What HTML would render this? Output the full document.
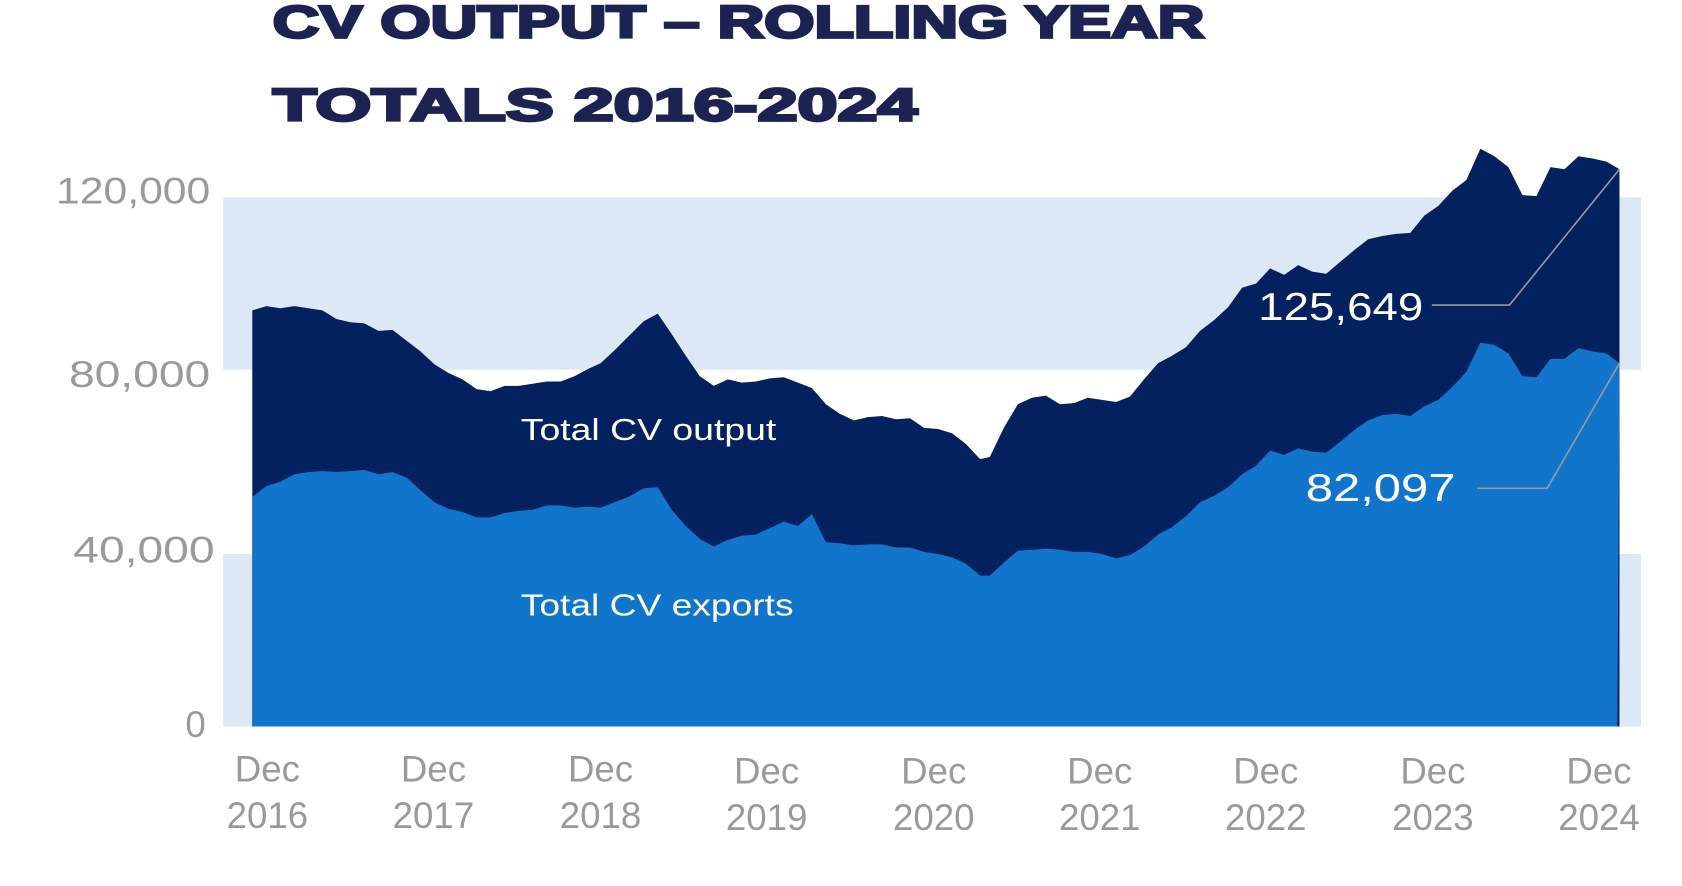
<!DOCTYPE html>
<html><head><meta charset="utf-8"><style>html,body{margin:0;padding:0;background:#fff}svg{display:block}</style></head>
<body>
<svg width="1682" height="886" viewBox="0 0 1560 822" preserveAspectRatio="none" xmlns="http://www.w3.org/2000/svg" font-family="Liberation Sans, sans-serif">
<rect x="207" y="183" width="1315" height="160" fill="#dce8f5"/>
<rect x="207" y="514" width="1315" height="160" fill="#dce8f5"/>
<path fill="#03205f" d="M234,674 L234,288 L247,284 L260,286 L273,284 L286,286 L299,288 L312,296 L325,299 L338,300 L351,307 L364,306 L377,316 L390,326 L403,338 L416,346 L429,352 L442,361 L455,363 L468,358 L481,358 L494,356 L507,354 L520,354 L533,349 L546,342 L557,337 L570,325 L583,312 L597,298 L610,291 L623,310 L636,330 L649,349 L662,358 L675,352 L688,355 L701,354 L714,351 L727,350 L740,355 L753,360 L766,375 L779,384 L792,390 L805,387 L818,386 L831,389 L844,388 L857,397 L870,398 L883,402 L896,412 L909,426 L918,424 L931,397 L944,375 L957,369 L970,367 L983,375 L996,374 L1009,369 L1022,371 L1035,373 L1048,368 L1061,352 L1074,337 L1087,330 L1100,322 L1113,307 L1126,297 L1139,285 L1152,267 L1165,263 L1178,249 L1191,255 L1204,246 L1217,252 L1230,254 L1243,243 L1256,232 L1269,222 L1282,219 L1295,217 L1308,216 L1321,200 L1334,191 L1347,177 L1360,167 L1373,138 L1386,145 L1399,155 L1412,181 L1425,182 L1438,155 L1451,157 L1464,145 L1477,147 L1490,150 L1502,157 L1502,674 Z"/>
<path fill="#1275cc" d="M234,674 L234,461 L247,451 L260,447 L273,440 L286,438 L299,437 L312,438 L325,437 L338,436 L351,440 L364,438 L377,443 L390,455 L403,466 L416,472 L429,475 L442,480 L455,480 L468,476 L481,474 L494,473 L507,469 L520,469 L533,471 L546,470 L557,471 L570,466 L583,461 L597,453 L610,452 L623,473 L636,488 L649,500 L662,507 L675,501 L688,497 L701,496 L714,490 L727,484 L740,488 L753,477 L766,503 L779,504 L792,506 L805,505 L818,505 L831,508 L844,508 L857,512 L870,514 L883,517 L896,523 L909,534 L918,534 L931,522 L944,511 L957,510 L970,509 L983,510 L996,512 L1009,512 L1022,514 L1035,518 L1048,515 L1061,507 L1074,496 L1087,489 L1100,479 L1113,466 L1126,460 L1139,452 L1152,440 L1165,432 L1178,418 L1191,422 L1204,416 L1217,419 L1230,420 L1243,410 L1256,399 L1269,390 L1282,385 L1295,384 L1308,386 L1321,377 L1334,371 L1347,359 L1360,345 L1373,318 L1386,320 L1399,328 L1412,349 L1425,350 L1438,333 L1451,333 L1464,323 L1477,326 L1490,328 L1502,337 L1500,674 Z"/>
<polyline points="1328,283 1400,283 1502,157" fill="none" stroke="#9a9a9a" stroke-width="1.5"/>
<polyline points="1370,453 1435,453 1502,337" fill="none" stroke="#9a9a9a" stroke-width="1.5"/>
<g fill="#fff">
<text x="1167" y="297" font-size="36" textLength="153" lengthAdjust="spacingAndGlyphs">125,649</text>
<text x="1211" y="465" font-size="36" textLength="139" lengthAdjust="spacingAndGlyphs">82,097</text>
<text x="483" y="408" font-size="28" textLength="237" lengthAdjust="spacingAndGlyphs">Total CV output</text>
<text x="483" y="571" font-size="28" textLength="253" lengthAdjust="spacingAndGlyphs">Total CV exports</text>
</g>
<g fill="#1c2352" font-weight="bold" font-size="42" stroke="#1c2352" stroke-width="2.5">
<text x="253" y="35" textLength="864" lengthAdjust="spacingAndGlyphs">CV OUTPUT – ROLLING YEAR</text>
<text x="253" y="112" textLength="598" lengthAdjust="spacingAndGlyphs">TOTALS 2016-2024</text>
</g>
<g fill="#9a9a9a" font-size="34">
<text x="52" y="189" textLength="143" lengthAdjust="spacingAndGlyphs">120,000</text>
<text x="64" y="359" textLength="131" lengthAdjust="spacingAndGlyphs">80,000</text>
<text x="68" y="522" textLength="131" lengthAdjust="spacingAndGlyphs">40,000</text>
<text x="172" y="684">0</text>
</g>
<g fill="#9a9a9a" font-size="34" text-anchor="middle">
<text x="248" y="725">Dec</text><text x="248" y="768">2016</text>
<text x="402" y="725">Dec</text><text x="402" y="768">2017</text>
<text x="557" y="725">Dec</text><text x="557" y="768">2018</text>
<text x="711" y="727">Dec</text><text x="711" y="770">2019</text>
<text x="866" y="727">Dec</text><text x="866" y="770">2020</text>
<text x="1020" y="727">Dec</text><text x="1020" y="770">2021</text>
<text x="1174" y="727">Dec</text><text x="1174" y="770">2022</text>
<text x="1329" y="727">Dec</text><text x="1329" y="770">2023</text>
<text x="1483" y="727">Dec</text><text x="1483" y="770">2024</text>
</g>
</svg>
</body></html>
